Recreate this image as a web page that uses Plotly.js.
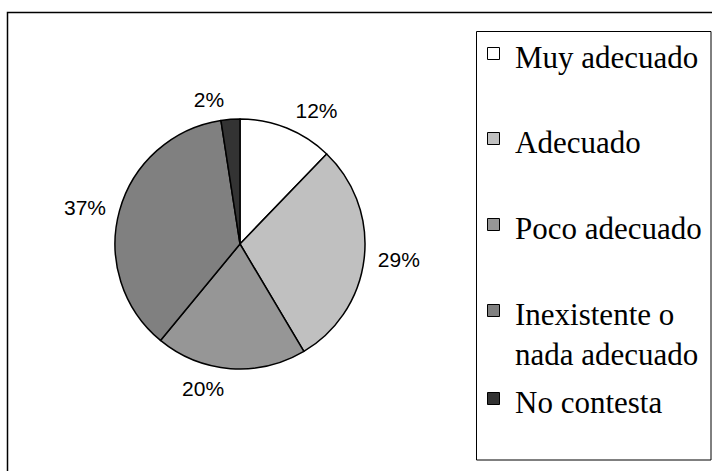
<!DOCTYPE html>
<html><head><meta charset="utf-8">
<script src="https://cdn.plot.ly/plotly-3.0.1.min.js"></script>
<style>html,body{margin:0;padding:0;background:#fff}</style>
</head><body><div id="chart" style="width:712px;height:471px"></div>
<script>
// Data
const categories = ['Muy adecuado', 'Adecuado', 'Poco adecuado', 'Inexistente o<br>nada adecuado', 'No contesta'];
const counts = [5, 12, 8, 15, 1];
const sliceColors = ['#FFFFFF', '#C0C0C0', '#969696', '#808080', '#333333'];

const W = 712, H = 471;
const px = x => x / W;
const py = y => 1 - y / H;
const CX = 240, CY = 244, R = 125, RL = 133;

// visible pie (slices only)
const pie = {
  type: 'pie',
  labels: categories,
  values: counts,
  sort: false,
  direction: 'clockwise',
  rotation: 0,
  marker: { colors: sliceColors, line: { color: '#000', width: 1.5 } },
  textinfo: 'none',
  domain: { x: [px(CX - R), px(CX + R)], y: [py(CY + R), py(CY - R)] },
  hoverinfo: 'none'
};
// same data, transparent, slightly larger: carries the outside percent labels
const labelPie = {
  type: 'pie',
  labels: categories,
  values: counts,
  sort: false,
  direction: 'clockwise',
  rotation: 0,
  marker: { colors: categories.map(() => 'rgba(0,0,0,0)'), line: { width: 0 } },
  textposition: 'outside',
  texttemplate: '%{percent:.0%}',
  outsidetextfont: { family: 'Liberation Sans, Arial, sans-serif', size: 21, color: '#000' },
  domain: { x: [px(CX - RL), px(CX + RL)], y: [py(CY + RL), py(CY - RL)] },
  hoverinfo: 'none'
};

// Manual legend built from the data arrays
const rowTops = [47, 132, 218, 304, 392];
const shapes = [
  { type: 'rect', xref: 'paper', yref: 'paper', x0: px(7.5), x1: 1.05, y0: -0.05, y1: py(12.5), line: { color: '#000', width: 1.5 }, fillcolor: 'rgba(0,0,0,0)' },
  { type: 'rect', xref: 'paper', yref: 'paper', x0: px(476.5), x1: px(711), y0: py(460), y1: py(31.5), line: { color: '#000', width: 1 }, fillcolor: 'rgba(0,0,0,0)' }
];
const annotations = [];
categories.forEach((c, i) => {
  const t = rowTops[i];
  shapes.push({ type: 'rect', xref: 'paper', yref: 'paper', x0: px(487.5), x1: px(499.5), y0: py(t + 12.5), y1: py(t + 0.5), line: { color: '#000', width: 1 }, fillcolor: sliceColors[i] });
  annotations.push({ xref: 'paper', yref: 'paper', x: px(513), y: py(t - 9.5), xanchor: 'left', yanchor: 'top', align: 'left', showarrow: false, text: c, font: { family: 'Liberation Serif, Times New Roman, serif', size: 31, color: '#000' } });
});

const layout = {
  width: W, height: H,
  margin: { l: 0, r: 0, t: 0, b: 0 },
  paper_bgcolor: '#fff',
  showlegend: false,
  shapes: shapes,
  annotations: annotations
};
Plotly.newPlot('chart', [labelPie, pie], layout, { displayModeBar: false, staticPlot: true });
</script>
</body></html>
